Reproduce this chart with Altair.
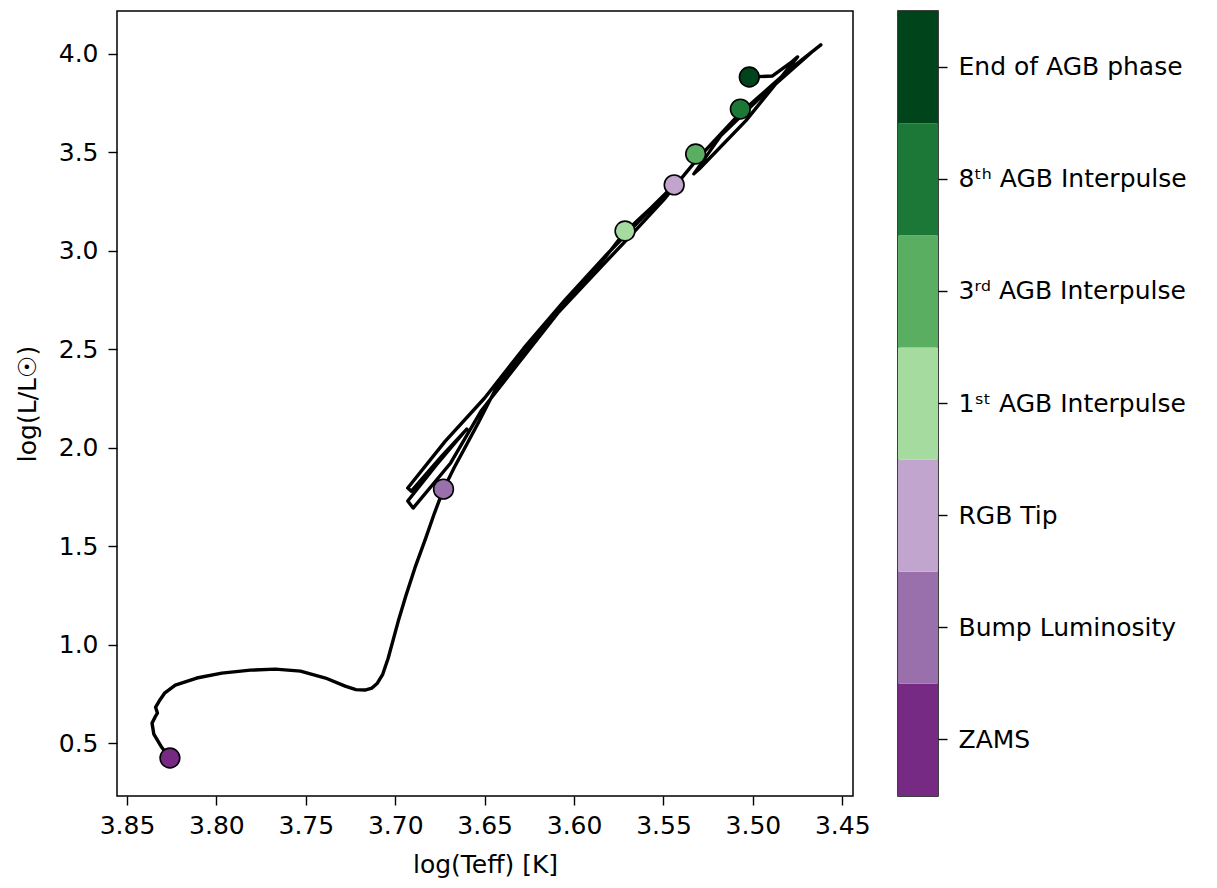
import altair as alt
import pandas as pd

# Evolutionary track in time order: log(Teff) and log(L/Lsun)
track_teff = [
    3.826, 3.831, 3.835, 3.836, 3.834, 3.833, 3.834, 3.832, 3.829, 3.823,
    3.811, 3.797, 3.781, 3.767, 3.753, 3.739, 3.728, 3.722, 3.717, 3.713, 3.710,
    3.707, 3.704, 3.701, 3.698, 3.694, 3.689, 3.683, 3.678, 3.673, 3.667, 3.662, 3.653, 3.643,
    3.628, 3.606, 3.582, 3.572, 3.557, 3.544,
    # helium flash descent to the clump
    3.582, 3.605, 3.628, 3.650, 3.672, 3.693,
    # clump loops
    3.691, 3.674, 3.660, 3.662, 3.677, 3.693,
    # early + thermally pulsing AGB
    3.690, 3.669, 3.652, 3.631, 3.609, 3.585, 3.569, 3.550, 3.531, 3.507,
    3.479, 3.462,
    # pulse dip and final ascent
    3.467, 3.496, 3.518, 3.533, 3.530, 3.504, 3.475, 3.479, 3.489, 3.502,
]
track_logl = [
    0.424, 0.485, 0.546, 0.602, 0.638, 0.653, 0.683, 0.714, 0.754, 0.795,
    0.831, 0.856, 0.871, 0.876, 0.866, 0.831, 0.790, 0.772, 0.770, 0.780, 0.805,
    0.850, 0.930, 1.030, 1.130, 1.250, 1.390, 1.540, 1.670, 1.790, 1.900, 1.984, 2.136, 2.314,
    2.492, 2.735, 2.974, 3.091, 3.218, 3.335,
    2.979, 2.751, 2.507, 2.253, 2.034, 1.796,
    1.780, 1.958, 2.095, 2.075, 1.913, 1.730,
    1.694, 1.923, 2.187, 2.431, 2.685, 2.918, 3.071, 3.258, 3.467, 3.700,
    3.924, 4.046,
    4.010, 3.777, 3.584, 3.391, 3.416, 3.660, 3.985, 3.954, 3.888, 3.883,
]

phase_names = [
    "ZAMS", "Bump Luminosity", "RGB Tip",
    "1ˢᵗ AGB Interpulse", "3ʳᵈ AGB Interpulse", "8ᵗʰ AGB Interpulse",
    "End of AGB phase",
]
phase_teff = [3.826, 3.673, 3.544, 3.5715, 3.532, 3.507, 3.502]
phase_logl = [0.425, 1.790, 3.335, 3.101, 3.492, 3.720, 3.883]
phase_colors = ["#762a83", "#9970ab", "#c2a5cf", "#a6dba0", "#5aae61", "#1b7837", "#00441b"]

x_ticks = [3.85, 3.80, 3.75, 3.70, 3.65, 3.60, 3.55, 3.50, 3.45]
y_ticks = [0.5, 1.0, 1.5, 2.0, 2.5, 3.0, 3.5, 4.0]

track = pd.DataFrame({"i": range(len(track_teff)), "teff": track_teff, "logl": track_logl})
phases = pd.DataFrame({"phase": phase_names, "teff": phase_teff, "logl": phase_logl})

FONT = "DejaVu Sans"
FS = 25

xscale = alt.Scale(domain=[3.444, 3.8556], reverse=True, nice=False, zero=False)
yscale = alt.Scale(domain=[0.232, 4.218], nice=False, zero=False)
cscale = alt.Scale(domain=phase_names, range=phase_colors)

xaxis = alt.Axis(values=x_ticks, format=".2f", title="log(Teff) [K]", labelFlush=False,
                 labelPadding=8, titlePadding=14)
yaxis = alt.Axis(values=y_ticks, format=".1f", title="log(L/L☉)", labelFlush=False,
                 labelPadding=10, titlePadding=18)

line = alt.Chart(track).mark_line(color="black", strokeWidth=3.4, strokeJoin="round",
                                  strokeCap="round").encode(
    x=alt.X("teff:Q", scale=xscale, axis=xaxis),
    y=alt.Y("logl:Q", scale=yscale, axis=yaxis),
    order=alt.Order("i:Q"),
)

points = alt.Chart(phases).mark_circle(size=390, opacity=1, stroke="black", strokeWidth=1.6).encode(
    x=alt.X("teff:Q", scale=xscale),
    y=alt.Y("logl:Q", scale=yscale),
    color=alt.Color("phase:N", scale=cscale, legend=None),
)

main = alt.layer(line, points).properties(width=736, height=785)

cbar = alt.Chart(pd.DataFrame({"phase": phase_names})).mark_rect().encode(
    y=alt.Y("phase:N", sort=list(reversed(phase_names)),
            scale=alt.Scale(domain=list(reversed(phase_names)), paddingInner=0, paddingOuter=0),
            axis=alt.Axis(orient="right", title=None, labelPadding=11, labelLimit=0)),
    color=alt.Color("phase:N", scale=cscale, legend=None),
).properties(width=40, height=785)

chart = alt.hconcat(main, cbar, spacing=45, bounds="flush").properties(
    padding={"left": 14, "top": 10, "right": 5, "bottom": 5},
    background="white",
).configure_view(stroke="black", strokeWidth=1.5).configure_axis(
    labelFont=FONT, labelFontSize=FS, titleFont=FONT, titleFontSize=FS,
    titleFontWeight="normal", labelColor="black", titleColor="black",
    tickColor="black", tickSize=9, tickWidth=1.4, labelLimit=0,
    domain=False, grid=False,
)

chart.save("out.html", embed_options={"renderer": "svg", "actions": False})
